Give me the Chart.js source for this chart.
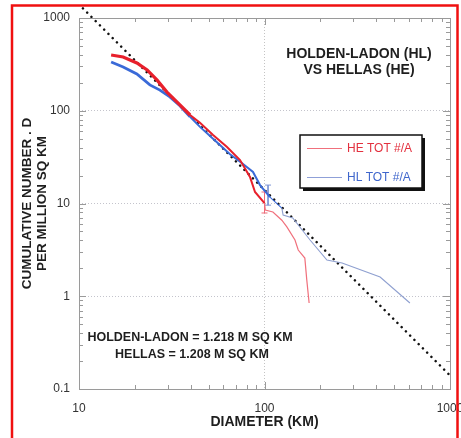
<!DOCTYPE html>
<html>
<head>
<meta charset="utf-8">
<script src="https://cdn.jsdelivr.net/npm/chart.js@4.4.1/dist/chart.umd.min.js"></script>
<style>
  html, body { margin: 0; padding: 0; background: #fff; }
</style>
</head>
<body>
<canvas id="chart" width="461" height="438"></canvas>
<script>
// Hellas (HE) cumulative crater counts
var heDiameter = [14.9, 17.3, 20.5, 23.3, 26.3, 29.8, 33.8, 39.7, 44.9, 52.8, 62.8, 73.8, 83.5, 88.9, 100, 101, 111, 124, 132, 146, 152, 165, 169, 174];
var heCumulative = [399, 380, 327, 275, 215, 159, 124, 90, 74, 54.8, 40.7, 29.4, 19.3, 13.3, 10.1, 8.5, 8.1, 6.6, 5.6, 4.04, 3.15, 2.58, 1.5, 0.845];

// Holden-Ladon (HL) cumulative crater counts
var hlDiameter = [14.9, 17.3, 20.5, 24.1, 27.3, 30.9, 35.0, 39.7, 44.9, 52.8, 65.2, 76, 86.7, 94.6, 107, 124, 126, 142, 176, 217, 262, 420, 608];
var hlCumulative = [335, 296, 249, 190, 167, 141, 113, 86, 67, 50, 34, 27, 21.9, 15.8, 11.7, 8.9, 7.5, 7.0, 4.04, 2.46, 2.28, 1.61, 0.845];

// error bars near 100 km
var heErrDiameter = [100, 100];
var heErrRange = [13.3, 7.9];
var hlErrDiameter = [104.5, 104.5];
var hlErrRange = [15.8, 9.6];

// D^-2 reference line
var refDiameter = [10.5, 1000];
var refCumulative = [1270, 0.14];

// labelled ticks
var xTickLabels = [10, 100, 1000];
var yTickLabels = [0.1, 1, 10, 100, 1000];

function toPoints(xs, ys) {
  return xs.map(function(x, i) { return { x: x, y: ys[i] }; });
}

function isLabelled(v, list) {
  return list.some(function(t) { return Math.abs(v - t) < t * 1e-6; });
}

function isDecade(v) {
  var l = Math.log10(v);
  return Math.abs(l - Math.round(l)) < 1e-6;
}

var heColor = function(c) {
  var d = c.p0.parsed.x;
  return d < 95 ? '#e8202c' : '#f0707c';
};
var heWidth = function(c) {
  var d = c.p0.parsed.x;
  return d < 38 ? 3.2 : (d < 95 ? 2 : 1.2);
};
var hlColor = function(c) {
  var d = c.p0.parsed.x;
  return d < 120 ? '#3a6ad8' : '#8fa0d0';
};
var hlWidth = function(c) {
  var d = c.p0.parsed.x;
  return d < 38 ? 2.8 : (d < 95 ? 2 : 1.1);
};

// frame, inward ticks, legend box and texts
var decorPlugin = {
  id: 'decor',
  beforeDraw: function(chart) {
    var ctx = chart.ctx;
    ctx.save();
    ctx.fillStyle = '#fff';
    ctx.fillRect(0, 0, chart.width, chart.height);
    ctx.restore();
  },
  afterDraw: function(chart) {
    var ctx = chart.ctx;
    var a = chart.chartArea;
    var xs = chart.scales.x;
    var ys = chart.scales.y;
    ctx.save();

    // frame
    ctx.strokeStyle = '#9a9a9a';
    ctx.lineWidth = 1;
    ctx.strokeRect(Math.round(a.left) + 0.5, Math.round(a.top) + 0.5, Math.round(a.right - a.left), Math.round(a.bottom - a.top));

    // minor / major ticks pointing inward
    var e, m, v, p, len;
    ctx.beginPath();
    for (e = 1; e <= 3; e++) {
      for (m = 1; m <= 9; m++) {
        v = m * Math.pow(10, e);
        if (v < xs.min - 1e-9 || v > xs.max + 1e-9) continue;
        p = Math.round(xs.getPixelForValue(v)) + 0.5;
        len = m === 1 ? 7 : 4;
        ctx.moveTo(p, a.bottom); ctx.lineTo(p, a.bottom - len);
        ctx.moveTo(p, a.top); ctx.lineTo(p, a.top + len);
      }
    }
    for (e = -1; e <= 3; e++) {
      for (m = 1; m <= 9; m++) {
        v = m * Math.pow(10, e);
        if (v < ys.min * 0.999999 || v > ys.max * 1.000001) continue;
        p = Math.round(ys.getPixelForValue(v)) + 0.5;
        len = m === 1 ? 7 : 4;
        ctx.moveTo(a.left, p); ctx.lineTo(a.left + len, p);
        ctx.moveTo(a.right, p); ctx.lineTo(a.right - len, p);
      }
    }
    ctx.stroke();

    // title inside plot
    ctx.fillStyle = '#1e1e1e';
    ctx.textAlign = 'center';
    ctx.textBaseline = 'middle';
    ctx.font = 'bold 14px Arial, "Liberation Sans", sans-serif';
    ctx.fillText('HOLDEN-LADON (HL)', a.left + 280, a.top + 36);
    ctx.fillText('VS HELLAS (HE)', a.left + 280, a.top + 52);

    // areas note
    ctx.font = 'bold 12.5px Arial, "Liberation Sans", sans-serif';
    ctx.fillText('HOLDEN-LADON = 1.218 M SQ KM', a.left + 111, a.top + 320);
    ctx.fillText('HELLAS = 1.208 M SQ KM', a.left + 113, a.top + 337);

    // legend box with shadow
    var bx = a.left + 221, by = a.top + 117, bw = 122, bh = 53;
    ctx.fillStyle = '#111';
    ctx.fillRect(bx + 3, by + 3, bw, bh);
    ctx.fillStyle = '#fff';
    ctx.fillRect(bx, by, bw, bh);
    ctx.strokeStyle = '#111';
    ctx.lineWidth = 1.5;
    ctx.strokeRect(bx, by, bw, bh);

    ctx.lineWidth = 1;
    ctx.strokeStyle = '#f0707c';
    ctx.beginPath(); ctx.moveTo(bx + 7, by + 13.5); ctx.lineTo(bx + 42, by + 13.5); ctx.stroke();
    ctx.strokeStyle = '#8fa0d8';
    ctx.beginPath(); ctx.moveTo(bx + 7, by + 42.5); ctx.lineTo(bx + 42, by + 42.5); ctx.stroke();

    ctx.textAlign = 'left';
    ctx.font = '12px Arial, "Liberation Sans", sans-serif';
    ctx.fillStyle = '#e3303e';
    ctx.fillText('HE TOT #/A', bx + 47, by + 14);
    ctx.fillStyle = '#3f66cc';
    ctx.fillText('HL TOT #/A', bx + 47, by + 43);

    // red outer border
    ctx.strokeStyle = '#f01010';
    ctx.lineWidth = 2.5;
    ctx.strokeRect(12, 5.5, 445.5, 440);

    ctx.restore();
  }
};

var ctx = document.getElementById('chart').getContext('2d');
var chart = new Chart(ctx, {
  type: 'line',
  data: {
    datasets: [
      {
        label: 'HE TOT #/A',
        data: toPoints(heDiameter, heCumulative),
        borderColor: '#e8202c',
        borderWidth: 2,
        pointRadius: 0,
        tension: 0,
        segment: { borderColor: heColor, borderWidth: heWidth }
      },
      {
        label: 'HL TOT #/A',
        data: toPoints(hlDiameter, hlCumulative),
        borderColor: '#3a6ad8',
        borderWidth: 2,
        pointRadius: 0,
        tension: 0,
        segment: { borderColor: hlColor, borderWidth: hlWidth }
      },
      {
        label: 'HE error',
        data: toPoints(heErrDiameter, heErrRange),
        borderColor: '#f06a78',
        borderWidth: 1,
        pointStyle: 'line',
        pointRadius: 3,
        pointBorderColor: '#f06a78',
        pointBorderWidth: 1
      },
      {
        label: 'HL error',
        data: toPoints(hlErrDiameter, hlErrRange),
        borderColor: '#7f96d6',
        borderWidth: 1,
        pointStyle: 'line',
        pointRadius: 3,
        pointBorderColor: '#7f96d6',
        pointBorderWidth: 1
      },
      {
        label: 'D^-2',
        data: toPoints(refDiameter, refCumulative),
        borderColor: '#111',
        borderWidth: 2.6,
        borderDash: [0.01, 6],
        borderCapStyle: 'round',
        pointRadius: 0,
        clip: false
      }
    ]
  },
  options: {
    responsive: false,
    animation: false,
    devicePixelRatio: 1,
    layout: { padding: { left: 0, top: 18, right: 11, bottom: 0 } },
    plugins: {
      legend: { display: false },
      tooltip: { enabled: false }
    },
    scales: {
      x: {
        type: 'logarithmic',
        min: 10,
        max: 1000,
        afterFit: function(s) { s.height = 49; s.paddingLeft = 0; s.paddingRight = 0; },
        grid: {
          drawTicks: false,
          lineWidth: 1,
          color: function(c) { return c.tick && isDecade(c.tick.value) ? '#c4c4c4' : 'rgba(0,0,0,0)'; }
        },
        border: { display: false, dash: [1, 2] },
        ticks: {
          autoSkip: false,
          maxRotation: 0,
          padding: 12,
          color: '#333',
          font: { family: 'Arial, "Liberation Sans", sans-serif', size: 12 },
          callback: function(v) { return isLabelled(v, xTickLabels) ? String(Math.round(v)) : ''; }
        },
        title: {
          display: true,
          text: 'DIAMETER (KM)',
          color: '#1e1e1e',
          padding: { top: 0, bottom: 7 },
          font: { family: 'Arial, "Liberation Sans", sans-serif', size: 14, weight: 'bold' }
        }
      },
      y: {
        type: 'logarithmic',
        min: 0.1,
        max: 1000,
        afterFit: function(s) { s.width = 79; s.paddingTop = 0; s.paddingBottom = 0; },
        grid: {
          drawTicks: false,
          lineWidth: 1,
          color: function(c) { return c.tick && isDecade(c.tick.value) ? '#c4c4cc' : 'rgba(0,0,0,0)'; }
        },
        border: { display: false, dash: [1, 2] },
        ticks: {
          autoSkip: false,
          padding: 9,
          color: '#333',
          font: { family: 'Arial, "Liberation Sans", sans-serif', size: 12 },
          callback: function(v) {
            if (!isLabelled(v, yTickLabels)) return '';
            return v < 1 ? v.toFixed(1) : String(Math.round(v));
          }
        },
        title: {
          display: true,
          text: ['CUMULATIVE NUMBER . D', 'PER MILLION SQ KM'],
          color: '#1e1e1e',
          padding: { top: 20, bottom: 0 },
          font: { family: 'Arial, "Liberation Sans", sans-serif', size: 13.5, weight: 'bold', lineHeight: 1.1 }
        }
      }
    }
  },
  plugins: [decorPlugin]
});
</script>
</body>
</html>
